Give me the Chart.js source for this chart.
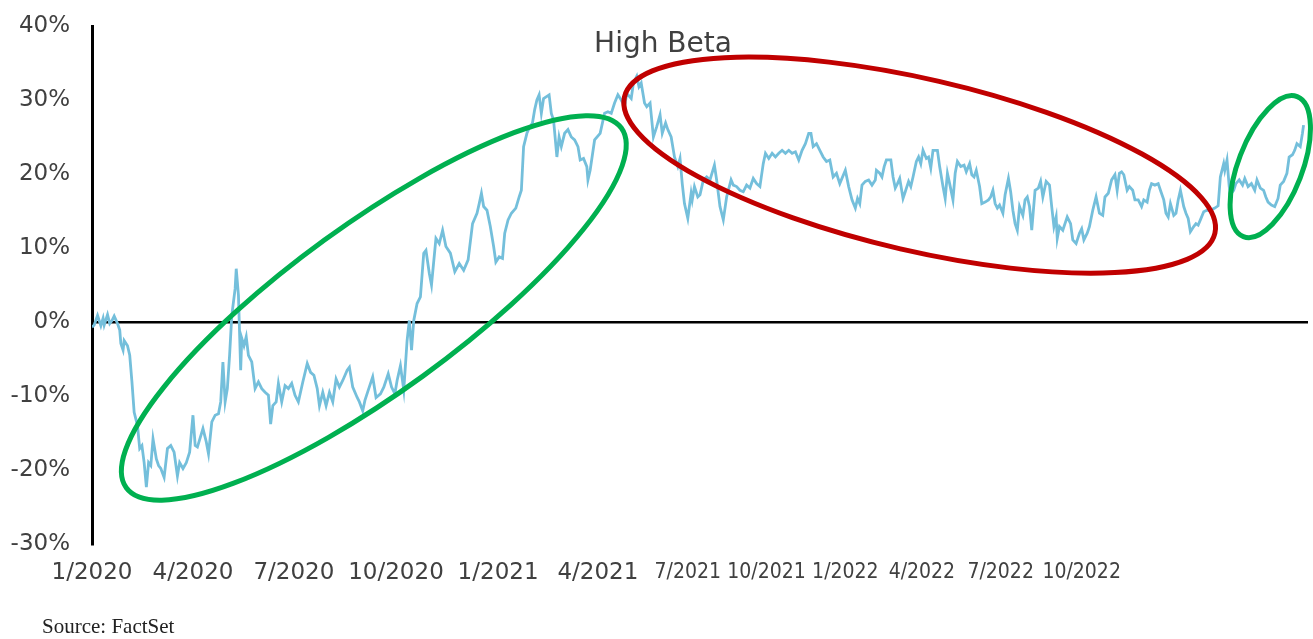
<!DOCTYPE html>
<html><head><meta charset="utf-8">
<script src="https://cdn.jsdelivr.net/npm/chart.js@4.4.1/dist/chart.umd.min.js"></script>
<style>
html,body{margin:0;padding:0;background:#fff;}
#wrap{position:relative;width:1313px;height:639px;overflow:hidden;}
#source{position:absolute;left:42px;top:616px;font-family:"Liberation Serif","Times New Roman",serif;font-size:21px;line-height:21px;color:#222;white-space:nowrap;}
</style></head><body>
<div id="wrap"><canvas id="c" width="1313" height="639" style="width:1313px;height:639px"></canvas><div id="source">Source: FactSet</div></div>
<script>
// Calendar days since 1 Jan 2020
const dayIdx = [
0,2,5,8,10,11,14,16,18,20,23,25,26,28,29,32,34,36,38,41,43,45,47,49,51,53,55,58,60,62,65,68,71,74,77,79,82,85,88,91,93,95,100,103,105,108,111,114,116,118,120,122,124,126,129,130,132,134,135,137,139,141,144,147,150,153,156,159,161,163,166,168,171,174,177,180,183,186,190,194,197,200,203,205,208,211,214,217,220,
223,226,230,232,235,239,241,244,246,249,253,256,260,263,267,270,273,275,278,281,284,286,288,290,293,296,299,301,304,306,310,313,316,319,323,327,331,335,339,343,347,349,351,353,356,359,362,364,367,370,372,375,378,382,385,387,389,392,394,397,399,401,403,405,407,410,412,414,416,419,421,423,426,429,432,435,438,440,443,446,447,
449,453,458,462,465,468,471,474,477,480,482,486,488,491,493,495,498,500,503,506,509,512,514,517,519,522,525,528,530,532,534,537,540,541,543,546,548,551,554,557,561,563,566,569,572,576,578,581,584,587,590,593,596,599,602,605,607,610,613,616,619,622,625,628,631,634,637,640,643,646,648,650,653,656,659,662,665,668,671,674,
679,682,685,688,690,692,694,697,700,703,706,707,710,712,714,716,720,722,724,726,728,731,733,736,738,740,743,745,747,749,752,754,756,758,762,764,767,769,771,773,776,778,780,783,786,788,791,793,795,797,800,802,805,808,810,812,814,816,818,821,823,826,828,830,832,834,836,839,841,843,845,847,850,853,855,857,860,863,865,867,869,870,872,875,879,882,884,887,890,892,894,897,899,
902,905,908,911,913,916,919,922,924,926,928,930,933,935,938,940,943,946,948,951,953,955,958,961,963,966,968,970,972,975,977,979,981,984,986,988,990,993,995,997,999,1002,1005,1008,1012,1015,1017,1020,1021,1023,1025,1026,1029,1031,1034,1037,1039,1042,1045,1048,1050,1053,1056,1058,1060,1063,1066,1069,1071,1074,1077,1079,1082,1084,1086,1089,1091,1092
];
// Relative performance, %
const highBetaPct = [
-0.7,-0.4,0.9,-0.5,0.5,-0.4,1.0,-0.2,0.2,0.8,-0.2,-1.1,-2.9,-3.8,-2.5,-3.2,-4.5,-8.1,-12.2,-14.0,-17.1,-16.7,-19.0,-22.3,-19.0,-19.4,-15.8,-18.5,-19.4,-19.8,-21.0,-17.1,-16.7,-17.6,-20.8,-19.0,-19.8,-19.0,-17.6,-12.6,-16.7,-16.9,-14.4,-16.2,-17.8,-13.5,-12.6,-12.4,-10.8,-5.4,-10.8,-9.0,-4.5,0.9,4.5,7.2,3.6,-6.5,-2.2,-3.2,-2.0,-4.5,-5.4,-9.0,-8.1,-9.0,-9.5,-9.9,-13.8,-11.3,-10.8,-8.3,-10.8,-8.6,-9.0,-8.3,-9.9,-10.8,-8.1,-5.6,-6.8,-7.2,-9.0,-11.3,-9.5,-11.3,-9.5,-10.8,-7.7,
-8.8,-7.9,-6.5,-6.1,-8.8,-10.2,-10.8,-12.0,-10.6,-9.2,-7.4,-10.2,-9.7,-8.8,-7.0,-8.8,-9.7,-7.9,-5.9,-9.2,-2.5,0.2,-3.8,0.2,2.5,3.4,9.3,9.7,6.6,5.0,11.3,10.6,12.4,10.2,9.3,6.8,7.9,7.0,8.4,13.3,14.7,16.0,17.4,15.6,15.1,12.9,10.2,8.1,8.8,8.6,12.0,13.8,14.7,15.4,16.9,17.8,23.7,25.5,26.2,26.9,28.7,30.0,30.7,28.2,30.2,30.5,30.7,28.2,27.3,22.3,25.0,23.7,25.5,26.0,25.0,24.6,23.7,21.9,22.1,21.0,19.2,
20.5,24.6,25.5,28.2,28.4,28.2,29.6,30.7,30.0,29.1,30.9,30.2,32.3,33.2,31.8,32.3,29.6,29.1,29.6,25.0,26.4,28.0,25.5,26.9,26.0,25.0,22.3,21.0,22.1,18.7,16.0,14.0,17.4,16.5,18.3,16.9,17.2,19.2,19.6,19.2,21.2,19.2,15.6,13.8,16.9,19.2,18.5,18.3,17.8,17.6,18.5,18.1,19.4,18.7,18.3,21.4,22.8,22.1,22.8,22.3,22.8,23.2,22.8,23.2,22.8,23.0,21.9,23.2,24.1,25.5,25.5,23.7,24.1,23.2,22.3,21.7,21.9,19.6,20.1,18.7,
20.5,18.3,16.5,15.4,16.7,16.0,18.5,19.0,19.2,18.5,19.2,20.5,20.1,19.6,21.0,21.9,21.9,19.6,18.1,18.7,19.4,16.7,17.6,19.0,18.3,19.6,21.7,22.3,21.4,23.2,22.1,22.3,20.8,23.2,23.2,21.0,18.3,16.7,20.1,18.7,16.5,20.1,21.7,21.0,21.2,20.3,21.4,19.9,19.6,20.5,18.3,16.0,16.2,16.5,16.9,17.8,16.0,15.4,15.8,14.7,17.2,19.4,17.6,15.1,13.3,12.4,15.6,14.4,16.5,16.9,15.6,12.4,17.8,18.1,19.0,16.9,19.0,18.5,15.6,12.9,14.2,11.3,12.9,12.4,14.2,13.3,11.1,10.6,12.0,12.6,11.1,12.0,12.9,
15.1,16.9,14.7,14.4,16.9,17.4,19.2,19.9,17.8,20.1,20.3,19.9,17.8,18.3,17.8,16.5,16.5,15.6,16.5,16.2,17.8,18.7,18.5,18.7,17.8,16.5,14.7,14.2,16.0,14.4,14.7,16.5,17.8,15.6,14.7,14.0,12.2,12.9,13.3,13.1,13.8,14.9,15.1,15.1,15.4,15.7,19.6,21.4,20.5,21.9,18.3,17.2,17.8,18.7,19.2,18.5,19.4,18.3,18.7,17.8,19.2,18.1,17.8,16.9,16.2,15.8,15.6,16.7,18.5,19.0,20.1,22.3,22.6,23.2,24.1,23.7,25.5,26.6
];
const tickLabels = ["1/2020","4/2020","7/2020","10/2020","1/2021","4/2021","7/2021","10/2021","1/2022","4/2022","7/2022","10/2022"];
const tickDays = [0,91,182,274,366,456,537,608,679,748,819,892];
const yTicks = [-30,-20,-10,0,10,20,30,40];
const chartTitle = "High Beta";

// Annotation ellipses: centre in data units, radii in px, rotation in degrees
const ellipses = [
  {day:254, pct:1.9, rx:306, ry:84, rot:-36, color:'#00b050'},
  {day:746, pct:21.2, rx:303, ry:86, rot:13, color:'#c00000'},
  {day:1062, pct:21.0, rx:75, ry:32, rot:-69, color:'#00b050'}
];

const points = dayIdx.map((d,i)=>({x:d, y:highBetaPct[i]}));
const fontFamily = '"DejaVu Sans", sans-serif';
const narrowFamily = '"DejaVu Sans Condensed", "DejaVu Sans", sans-serif';
const textColor = '#404040';

const overlay = {
  id:'overlay',
  afterDatasetsDraw(chart){
    const {ctx, scales:{x,y}} = chart;
    ctx.save();
    ellipses.forEach(e=>{
      ctx.beginPath();
      ctx.ellipse(x.getPixelForValue(e.day), y.getPixelForValue(e.pct), e.rx, e.ry, e.rot*Math.PI/180, 0, Math.PI*2);
      ctx.lineWidth = 5;
      ctx.strokeStyle = e.color;
      ctx.stroke();
    });
    ctx.restore();
  },
  afterDraw(chart){
    const {ctx} = chart;
    ctx.save();
    ctx.font = '28px ' + fontFamily;
    ctx.fillStyle = textColor;
    ctx.textAlign = 'center';
    ctx.textBaseline = 'alphabetic';
    ctx.fillText(chartTitle, 663, 52);
    ctx.restore();
  }
};

new Chart(document.getElementById('c'), {
  type:'line',
  data:{datasets:[{label:chartTitle, data:points, borderColor:'#74bfdb', borderWidth:2.8, pointRadius:0, tension:0, fill:false}]},
  options:{
    responsive:false, animation:false, devicePixelRatio:1,
    layout:{padding:{top:26,right:5,left:0,bottom:0}},
    plugins:{legend:{display:false}, tooltip:{enabled:false}, title:{display:false}},
    scales:{
      x:{type:'linear', min:0, max:1096,
        grid:{display:false}, border:{display:false},
        afterBuildTicks(s){ s.ticks = tickDays.map(v=>({value:v})); },
        ticks:{autoSkip:false, maxRotation:0, padding:7, color:textColor,
          font:c=>(c.index>=6 ? {family:narrowFamily, size:21, lineHeight:1.314} : {family:fontFamily, size:23, lineHeight:1.2}),
          callback:(v,i)=>tickLabels[i]},
        afterFit(s){ s.height = 95; }
      },
      y:{min:-30, max:40,
        afterBuildTicks(s){ s.ticks = yTicks.map(v=>({value:v})); },
        grid:{drawTicks:false, lineWidth:2.5, color:c=> (c.tick && c.tick.value===0) ? '#000' : 'rgba(0,0,0,0)'},
        border:{display:true, color:'#000', width:3},
        ticks:{padding:22, font:{family:fontFamily, size:23}, color:textColor, callback:v=>v+'%'},
        afterFit(s){ s.width = 92; s.paddingTop = 0; s.paddingBottom = 0; }
      }
    }
  },
  plugins:[overlay]
});
</script>
</body></html>
